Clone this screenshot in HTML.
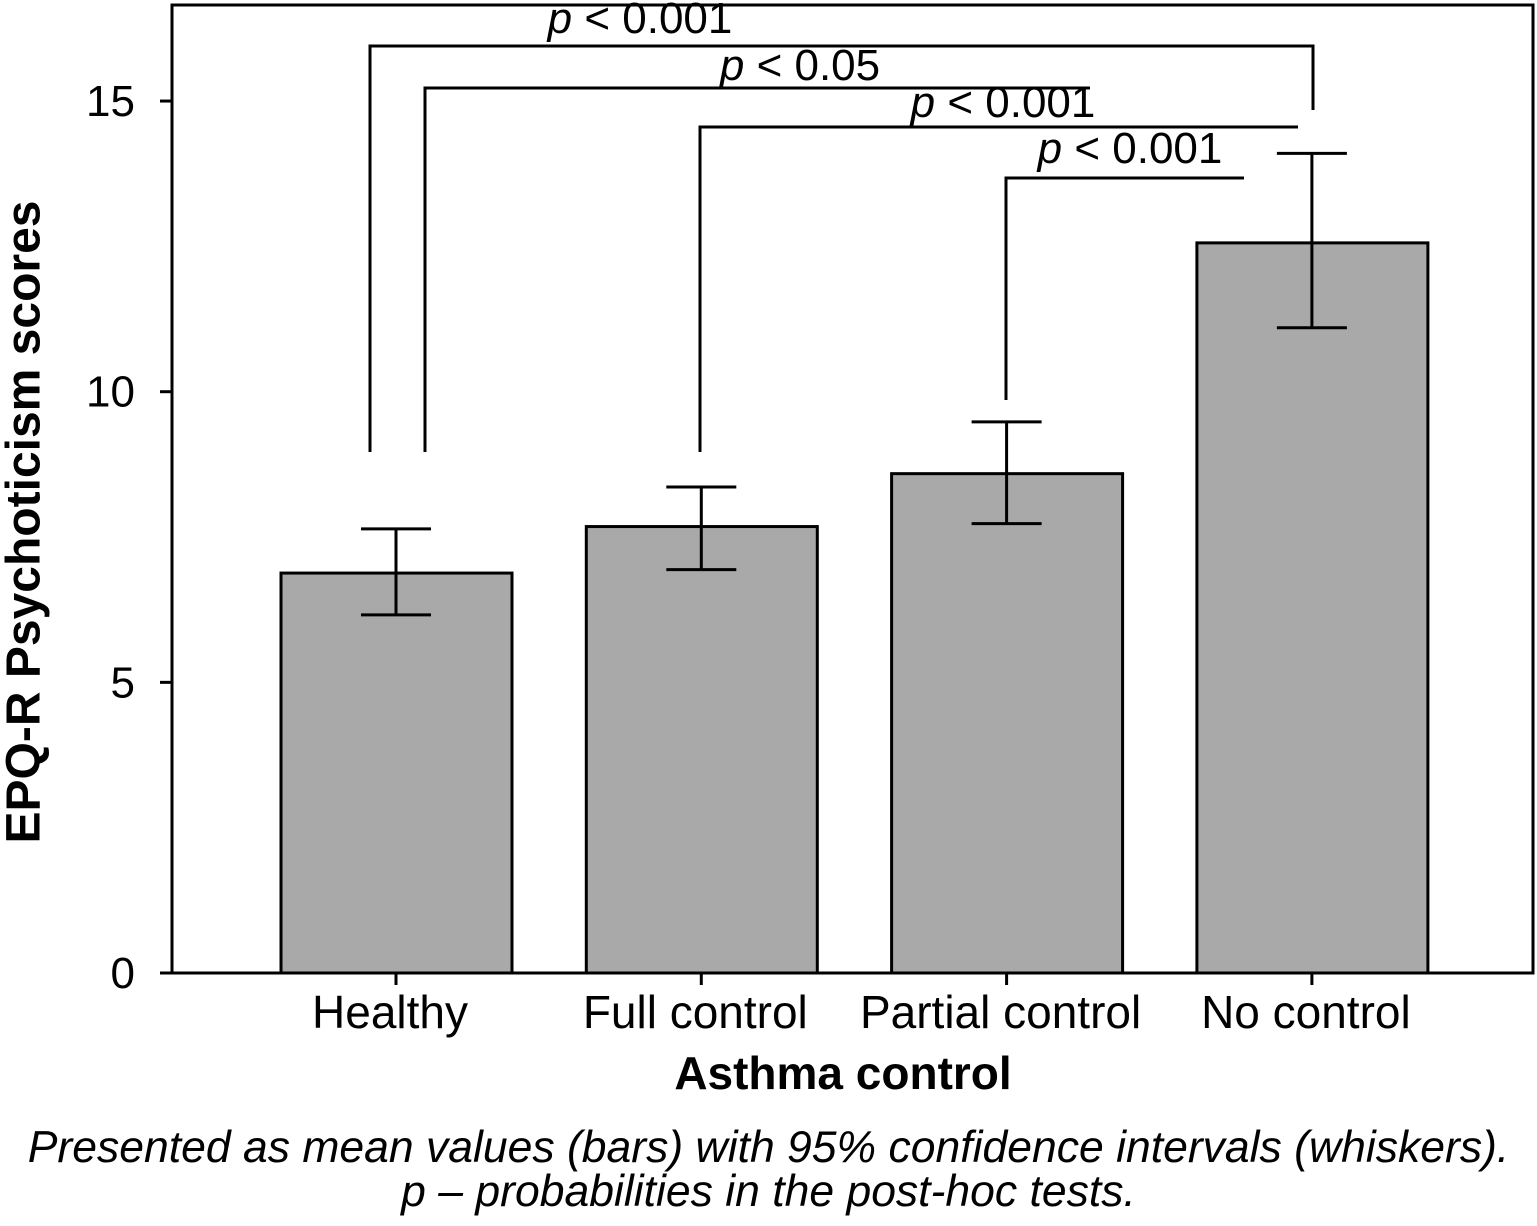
<!DOCTYPE html>
<html><head><meta charset="utf-8"><style>
html,body{margin:0;padding:0;background:#fff;}
svg{display:block;font-family:"Liberation Sans","DejaVu Sans",sans-serif;}
</style></head><body>
<svg id="chart" width="1537" height="1226" viewBox="0 0 1537 1226">
<g id="plot"></g>
</svg>
<script>
const categories = ["Healthy","Full control","Partial control","No control"];
const means = [6.88, 7.68, 8.59, 12.56];
const ciLow = [6.16, 6.94, 7.73, 11.10];
const ciHigh = [7.64, 8.36, 9.48, 14.10];
const yTicks = [0,5,10,15];
const pLabels = ["p < 0.001","p < 0.05","p < 0.001","p < 0.001"];

const NS="http://www.w3.org/2000/svg";
const g=document.getElementById('plot');
const L=172,R=1533,T=5,B=973;
const yPx=v=>B-v*58.13;
const xCenter=i=>396+i*305.3;
const barW=231;
function el(tag,attrs,parent){const e=document.createElementNS(NS,tag);for(const k in attrs)e.setAttribute(k,attrs[k]);(parent||g).appendChild(e);return e;}

categories.forEach((c,i)=>{
  const b=el('rect',{x:xCenter(i)-barW/2+0.5,y:yPx(means[i]),width:barW,height:B-yPx(means[i]),fill:'#a9a9a9',stroke:'#000','stroke-width':3});
  
  
  const eb=el('path',{d:`M${xCenter(i)},${yPx(ciLow[i])}V${yPx(ciHigh[i])}M${xCenter(i)-35},${yPx(ciLow[i])}h70M${xCenter(i)-35},${yPx(ciHigh[i])}h70`,stroke:'#000','stroke-width':3,fill:'none'});
  
  
  const tk=el('line',{x1:xCenter(i),x2:xCenter(i),y1:B,y2:B+12,stroke:'#000','stroke-width':3});
  
  
  const t=el('text',{x:xCenter(i)-6,y:1028,'text-anchor':'middle','font-size':46});
  t.textContent=c;
  
  
});

const fr=el('rect',{x:L,y:T,width:R-L,height:B-T,fill:'none',stroke:'#000','stroke-width':3});



yTicks.forEach(v=>{
  const tk=el('line',{x1:160,x2:L,y1:yPx(v),y2:yPx(v),stroke:'#000','stroke-width':3});
  
  
  const t=el('text',{x:135,y:yPx(v)+15,'text-anchor':'end','font-size':44});
  t.textContent=v;
  
  
});

const brackets=[
 {d:'M370,452V46H1313V110',lx:640,ly:33},
 {d:'M425,452V88H1090',lx:800,ly:80},
 {d:'M700,452V127H1298',lx:1003,ly:117},
 {d:'M1006,400V178H1244',lx:1130,ly:163}
];
brackets.forEach((b,i)=>{
  const p=el('path',{d:b.d,stroke:'#000','stroke-width':3,fill:'none'});
  
  
});
brackets.forEach((b,i)=>{
  const t=el('text',{x:b.lx,y:b.ly,'text-anchor':'middle','font-size':44});
  const parts=pLabels[i].split(' ');
  const ts=el('tspan',{'font-style':'italic'},t);ts.textContent=parts[0];
  const ts2=el('tspan',{},t);ts2.textContent=' '+parts.slice(1).join(' ');
  
  
});
</script>
<div style="position:absolute;left:0;top:0;width:1537px;height:1226px;pointer-events:none;font-family:'Liberation Sans','DejaVu Sans',sans-serif;">
<div style="position:absolute;left:24px;top:522px;transform:translate(-50%,-50%) rotate(-90deg);white-space:nowrap;font-weight:bold;font-size:48px;">EPQ-R Psychoticism scores</div>
<div style="position:absolute;left:843px;top:1073px;transform:translate(-50%,-50%);white-space:nowrap;font-weight:bold;font-size:46px;">Asthma control</div>
<div style="position:absolute;left:0;width:1537px;top:1126px;text-align:center;font-style:italic;font-size:44.5px;line-height:44px;white-space:nowrap;">Presented as mean values (bars) with 95% confidence intervals (whiskers).<br>p – probabilities in the post-hoc tests.</div>
</div>
</body></html>
